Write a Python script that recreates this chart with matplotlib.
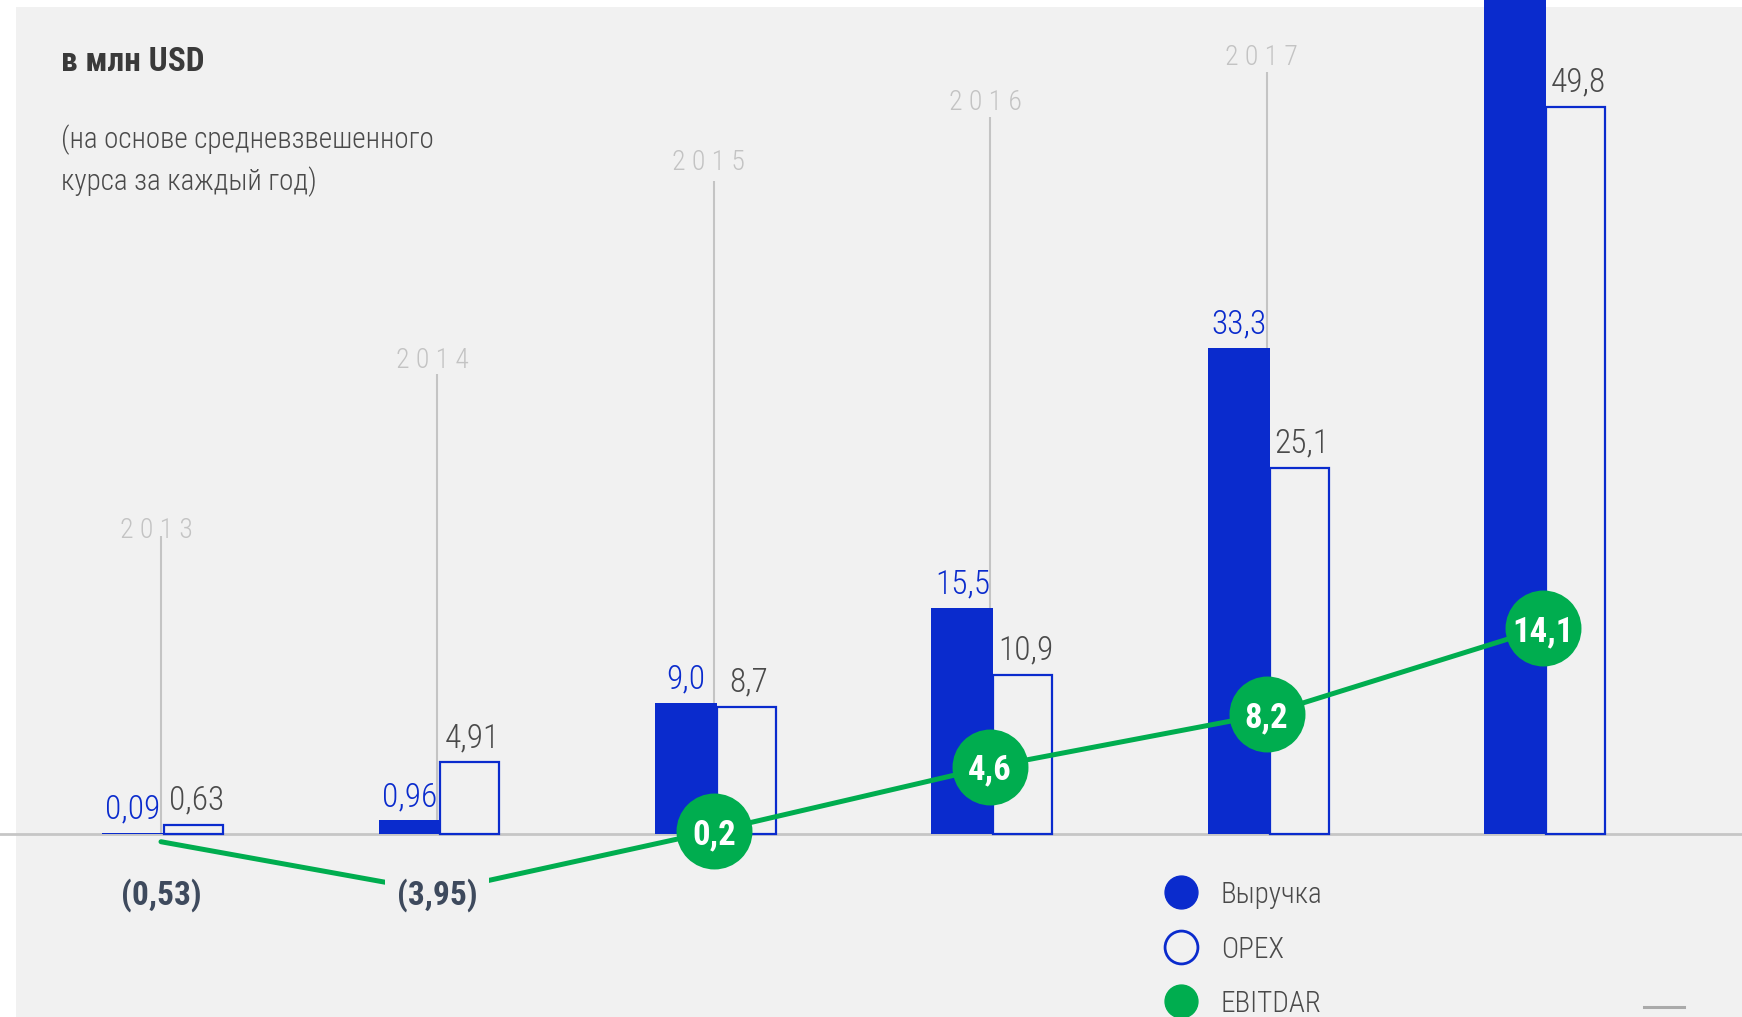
import matplotlib
matplotlib.use('Agg')
import matplotlib.pyplot as plt
import numpy as np
from matplotlib import font_manager
from matplotlib.patches import Rectangle
from matplotlib.lines import Line2D

# ---- data ----
years = ['2013', '2014', '2015', '2016', '2017', '2018']
revenue = [0.09, 0.96, 9.0, 15.5, 33.3, 60.0]   # 2018 bar runs off the top of the picture
revenue_labels = ['0,09', '0,96', '9,0', '15,5', '33,3', '']
opex = [0.63, 4.91, 8.7, 10.9, 25.1, 49.8]
opex_labels = ['0,63', '4,91', '8,7', '10,9', '25,1', '49,8']
ebitdar = [-0.53, -3.95, 0.2, 4.6, 8.2, 14.1]
ebitdar_labels = ['(0,53)', '(3,95)', '0,2', '4,6', '8,2', '14,1']
series = ['Выручка', 'OPEX', 'EBITDAR']

title = 'в млн USD'
subtitle = '(на основе средневзвешенного\nкурса за каждый год)'

# layout: where the grey year stems stop and where the year labels sit
year_tops = [20.4, 31.5, 44.7, 49.1, 52.2, 58.5]
year_label_y = [20.3, 31.9, 45.5, 49.6, 52.7, 63.0]
neg_label_y = -3.95
legend_x, legend_ys = 3.69, [-3.97, -7.74, -11.44]

BLUE = '#0a2bcd'
GREEN = '#00ad4f'
PANEL = '#f1f1f1'

avail = {f.name for f in font_manager.fontManager.ttflist}
cands = ['Roboto Condensed', 'Noto Sans Condensed', 'Liberation Sans Narrow',
         'Open Sans Condensed', 'DejaVu Sans Condensed', 'Roboto', 'DejaVu Sans']
FONT = next(c for c in cands if c in avail)
plt.rcParams['font.family'] = [FONT, 'DejaVu Sans']

W, H = 1742, 1017
fig = plt.figure(figsize=(W / 100, H / 100), dpi=100, facecolor='white')
fig.patches.append(Rectangle((16 / W, 0), 1, (H - 7) / H, transform=fig.transFigure,
                             facecolor=PANEL, edgecolor='none', zorder=-5))

ax = fig.add_axes([0, 0, 1, 1])
ax.set_facecolor('none')
ux, uy = 276.4, 14.6          # px per category / per mln USD
x0, base = 161, 183           # px of first category, px of zero line from bottom
ax.set_xlim(-x0 / ux, (W - x0) / ux)
ax.set_ylim(-base / uy, (H - base) / uy)
ax.axis('off')
ytop = ax.get_ylim()[1]

x = np.arange(len(years))

# zero line
ax.axhline(0, color='#c6c6c6', lw=2.0, zorder=2)

# year stems + labels (2018 label is above the picture)
ax.vlines(x, 0, year_tops, color='#c4c4c4', lw=1.5, zorder=1)
for xi, yl, yr in zip(x, year_label_y, years):
    if yl > ytop - 1.5:
        continue
    ax.text(xi - 0.018, yl, ' '.join(yr), ha='center', va='baseline',
            fontsize=20, color='#c3c3c3', fontweight='light', zorder=1)

# bars
wr, wo, sh = 0.224, 0.213, 0.011
ax.bar(x + sh, opex, width=wo, align='edge', facecolor=PANEL, edgecolor=BLUE,
       linewidth=1.6, zorder=3)
ax.bar(x + sh - wr, revenue, width=wr, align='edge', color=BLUE, zorder=3)

for xi, v, lab in zip(x, revenue, revenue_labels):
    if lab and v < ytop - 3:
        ax.annotate(lab, (xi + sh - wr / 2, v), xytext=(0, 10), textcoords='offset points',
                    ha='center', va='baseline', fontsize=24, color=BLUE,
                    fontweight='light', zorder=4)
for xi, v, lab in zip(x, opex, opex_labels):
    ax.annotate(lab, (xi + sh + wo / 2 + 0.01, v), xytext=(0, 11), textcoords='offset points',
                ha='center', va='baseline', fontsize=24, color='#4a4a4a',
                fontweight='light', zorder=4)

# EBITDAR line
ax.plot(x, ebitdar, color=GREEN, lw=3.6, solid_capstyle='round', zorder=5)
pos = [i for i, v in enumerate(ebitdar) if v >= 0]
neg = [i for i, v in enumerate(ebitdar) if v < 0]
ax.scatter(x[pos], np.array(ebitdar)[pos], s=2990, color=GREEN, zorder=6, linewidths=0)
for i in pos:
    ax.text(x[i], ebitdar[i], ebitdar_labels[i], ha='center', va='center_baseline',
            fontsize=25, fontweight='bold', color='white', zorder=7)
for i in neg:
    ax.text(x[i], neg_label_y, ebitdar_labels[i], ha='center', va='center_baseline',
            fontsize=24, fontweight='bold', color='#3e4a5d', zorder=7,
            bbox=dict(boxstyle='square,pad=0.35', facecolor=PANEL, edgecolor='none'))

# legend
styles = [dict(color=BLUE), dict(facecolor=PANEL, edgecolors=BLUE, linewidths=2.0),
          dict(color=GREEN)]
for ly, name, st in zip(legend_ys, series, styles):
    ax.scatter([legend_x], [ly], s=560, zorder=6, clip_on=False, **st)
    ax.text(legend_x + 0.145, ly, name, ha='left', va='center_baseline', fontsize=21,
            color='#4a4a4a', fontweight='light')

# titles
fig.text(61 / W, 1 - 71 / H, title, ha='left', va='baseline', fontsize=24,
         fontweight='bold', color='#3a3a3a')
for k, line in enumerate(subtitle.split('\n')):
    fig.text(61 / W, 1 - (148 + 42 * k) / H, line, ha='left', va='baseline',
             fontsize=21, fontweight='light', color='#4a4a4a')

# small dash bottom right
fig.add_artist(Line2D([1644 / W, 1684 / W], [1 - 1007 / H] * 2, transform=fig.transFigure,
                      color='#aaaaaa', lw=2.2))

fig.savefig('out.png', dpi=100, facecolor='white')
